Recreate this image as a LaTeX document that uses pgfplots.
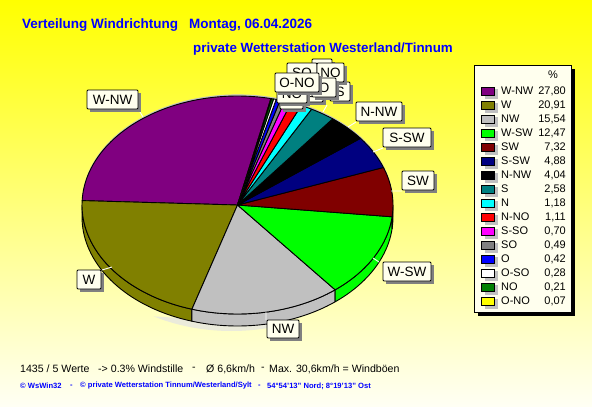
\documentclass[border=0pt]{standalone}
\usepackage{pgfplots}
\usepackage{pgfplotstable}
\usepackage{fontspec}
\setmainfont{Liberation Sans}
\pgfplotsset{compat=1.18}
\definecolor{cA}{RGB}{128,0,128}
\definecolor{cB}{RGB}{128,128,0}
\definecolor{cC}{RGB}{192,192,192}
\definecolor{cD}{RGB}{0,255,0}
\definecolor{cE}{RGB}{128,0,0}
\definecolor{cF}{RGB}{0,0,128}
\definecolor{cG}{RGB}{0,0,0}
\definecolor{cH}{RGB}{0,128,128}
\definecolor{cI}{RGB}{0,255,255}
\definecolor{cJ}{RGB}{255,0,0}
\definecolor{cK}{RGB}{255,0,255}
\definecolor{cL}{RGB}{128,128,128}
\definecolor{cM}{RGB}{0,0,255}
\definecolor{cN}{RGB}{255,255,255}
\definecolor{cO}{RGB}{0,128,0}
\definecolor{cP}{RGB}{255,255,0}
\definecolor{cream}{RGB}{255,255,238}
\definecolor{ttl}{RGB}{0,0,255}
\pgfplotstableread{
name value txt col
W-NW 27.80 27,80 cA
W 20.91 20,91 cB
NW 15.54 15,54 cC
W-SW 12.47 12,47 cD
SW 7.32 7,32 cE
S-SW 4.88 4,88 cF
N-NW 4.04 4,04 cG
S 2.58 2,58 cH
N 1.18 1,18 cI
N-NO 1.11 1,11 cJ
S-SO 0.70 0,70 cK
SO 0.49 0,49 cL
O 0.42 0,42 cM
O-SO 0.28 0,28 cN
NO 0.21 0,21 cO
O-NO 0.07 0,07 cP
}\T
\def\cx{237.5}\def\cy{205}\def\rx{155.5}\def\ry{109}
\newcommand\arcto[3]{% from, to, dy : append to \pts
  \pgfmathtruncatemacro\stp{max(1,ceil(abs(#2-(#1))/2))}%
  \foreach \j in {0,...,\stp}{%
    \pgfmathsetmacro\tht{#1+(#2-(#1))*(\j/\stp)}%
    \pgfmathsetmacro\px{\cx+\rx*cos(\tht)}%
    \pgfmathsetmacro\py{\cy+#3-\ry*sin(\tht)}%
    \xdef\pts{\pts (\px,\py)}%
  }%
}
\newcommand\lab[5]{%
  \fill[black!50] (#1+3,#2+3) rectangle (#3+3,#4+3);
  \draw[black,fill=cream,line width=0.9pt,rounded corners=1pt] (#1,#2) rectangle (#3,#4);
  \node[font=\fontsize{13.5}{14}\selectfont,inner sep=0pt,anchor=center] at ({(#1+#3)/2},{(#2+#4)/2}) {#5};
}
\newcommand\txt[4][black]{\node[anchor=west,inner sep=0pt,text=#1,font=#4] at (#2) {#3};}
\begin{document}
\begin{tikzpicture}
\begin{axis}[scale only axis,width=592pt,height=407pt,xmin=0,xmax=592,ymin=0,ymax=407,y dir=reverse,
  axis lines=none,clip=false]
\fill[top color=yellow,bottom color=cream!60!white] (0,0) rectangle (592,407);
% shadow and back edge
\xdef\pts{}\arcto{240}{290}{17}
\edef\temp{\noexpand\addplot[draw=none,fill=black!8!cream,shift={(axis direction cs:-6,0)}] coordinates {\pts};}\temp
\xdef\pts{}\arcto{0}{360}{0}
\edef\temp{\noexpand\addplot[draw=none,fill=cC,shift={(axis direction cs:0,-1.6)}] coordinates {\pts};}\temp
% side wall
\xdef\ang{77.6}
\foreach \i in {0,...,15}{%
  \pgfplotstablegetelem{\i}{value}\of\T
  \pgfmathsetmacro\sa{\ang}%
  \pgfmathsetmacro\sb{\ang+3.6*\pgfplotsretval}%
  \xdef\ang{\sb}%
  \pgfplotstablegetelem{\i}{col}\of\T
  \edef\scol{\pgfplotsretval}%
  \pgfmathsetmacro\slo{max(\sa,180)}%
  \pgfmathsetmacro\shi{min(\sb,360)}%
  \pgfmathtruncatemacro\sok{\shi>\slo ? 1 : 0}%
  \ifnum\sok=1
    \xdef\pts{}\arcto{\slo}{\shi}{0}\arcto{\shi}{\slo}{12}%
    \edef\temp{\noexpand\addplot[draw=black,line width=0.9pt,fill=\scol,line join=round] coordinates {\pts} -- cycle;}\temp
  \fi
}
% top
\xdef\ang{77.6}
\foreach \i in {0,...,15}{%
  \pgfplotstablegetelem{\i}{value}\of\T
  \pgfmathsetmacro\sa{\ang}%
  \pgfmathsetmacro\sb{\ang+3.6*\pgfplotsretval}%
  \xdef\ang{\sb}%
  \pgfplotstablegetelem{\i}{col}\of\T
  \edef\scol{\pgfplotsretval}%
  \xdef\pts{(\cx,\cy)}\arcto{\sa}{\sb}{0}%
  \edef\temp{\noexpand\addplot[draw=black,line width=0.9pt,fill=\scol,line join=round] coordinates {\pts} -- cycle;}\temp
}
% leaders
\draw[white,line width=0.9pt] (140,112)--(143,117) (102,270)--(112,267) (266,312)--(266,320) (373,258)--(379,262) (391,191)--(402,191) (373,152)--(383,148) (348,127)--(356,122) (327,105)--(323,112);
% labels
\lab{87}{90}{138}{109}{W-NW}
\lab{77}{270}{101}{289}{W}
\lab{267}{320}{299}{338}{NW}
\lab{383}{262}{431}{281}{W-SW}
\lab{402}{171}{434}{190}{SW}
\lab{383}{128}{431}{147}{S-SW}
\lab{356}{102}{402}{121}{N-NW}
\lab{280}{91}{303}{109}{}
\lab{312}{59}{332}{78}{N}
\lab{330}{82}{350}{101}{S}
\lab{287}{63}{317}{82}{SO}
\lab{317}{63}{344}{82}{NO}
\lab{297}{83}{323}{102}{S-SO}
\lab{312}{78}{336}{97}{O}
\lab{277}{84}{307}{103}{NO}
\lab{275}{73}{319}{92}{O-NO}
% legend
\fill[black] (478,69) rectangle (575,316);
\draw[black,fill=cream,line width=0.9pt] (474,65) rectangle (571,312);
\node[font=\fontsize{11}{12}\selectfont,inner sep=0pt] at (553,75) {\%};
\foreach \i in {0,...,15}{%
  \pgfmathsetmacro\yy{91+14*\i}%
  \pgfplotstablegetelem{\i}{name}\of\T \edef\nn{\pgfplotsretval}%
  \pgfplotstablegetelem{\i}{txt}\of\T \edef\vv{\pgfplotsretval}%
  \pgfplotstablegetelem{\i}{col}\of\T \edef\scol{\pgfplotsretval}%
  \edef\temp{%
    \noexpand\fill[cC] (485,\yy-2) rectangle (498,\yy+8);
    \noexpand\draw[black,fill=\scol,line width=0.9pt] (481,\yy-4) rectangle (494,\yy+4);
    \noexpand\node[anchor=west,inner sep=0pt,font=\noexpand\fontsize{11}{12}\noexpand\selectfont] at (501,\yy) {\nn};
    \noexpand\node[anchor=east,inner sep=0pt,font=\noexpand\fontsize{11}{12}\noexpand\selectfont] at (566,\yy) {\vv};
  }\temp
}
% titles
\txt[ttl]{22,25.5}{Verteilung Windrichtung}{\bfseries\fontsize{13.5}{14}\selectfont}
\txt[ttl]{189,25.5}{Montag, 06.04.2026}{\bfseries\fontsize{13.5}{14}\selectfont}
\txt[ttl]{193,49.5}{private Wetterstation Westerland/Tinnum}{\bfseries\fontsize{13.35}{14}\selectfont}
% status
\def\sfnt{\fontsize{10.6}{12}\selectfont}
\txt{20,369}{1435 / 5 Werte}{\sfnt}
\txt{98,369}{-> 0.3\% Windstille}{\sfnt}
\txt{192,369}{-}{\sfnt}
\txt{206,369}{Ø 6,6km/h}{\sfnt}
\txt{261,369}{-}{\sfnt}
\txt{269,369}{Max. 30,6km/h = Windböen}{\sfnt}
\def\ffnt{\bfseries\fontsize{7.6}{8}\selectfont}
\txt[ttl]{20,386}{© WsWin32}{\ffnt}
\txt[ttl]{70,386}{-}{\ffnt}
\txt[ttl]{80,386}{© private Wetterstation Tinnum/Westerland/Sylt}{\ffnt}
\txt[ttl]{258,386}{-}{\ffnt}
\txt[ttl]{267,386}{54°54'13'' Nord; 8°19'13'' Ost}{\ffnt}
\end{axis}
\end{tikzpicture}
\end{document}
